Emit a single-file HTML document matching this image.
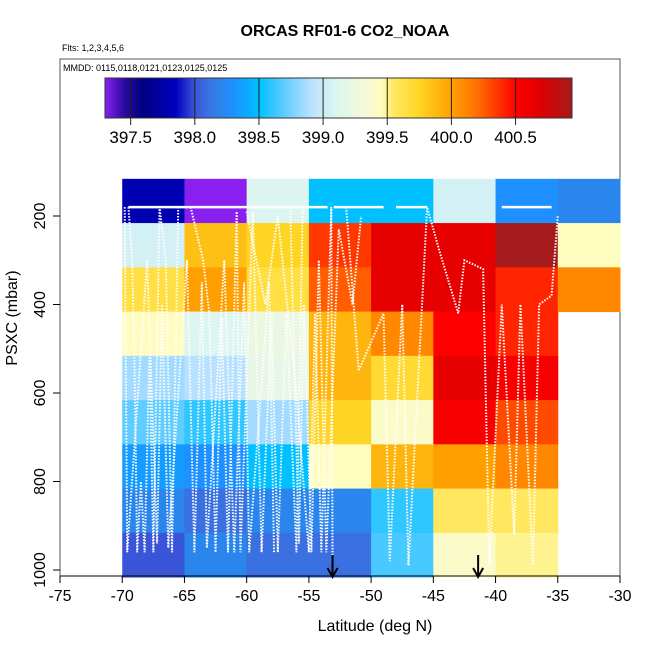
<!DOCTYPE html>
<html><head><meta charset="utf-8"><style>
body{margin:0;background:#fff}
svg{display:block;font-family:"Liberation Sans",sans-serif}
</style></head><body>
<svg id="chart" width="650" height="650" viewBox="0 0 650 650">
<defs>
<linearGradient id="cbgrad" x1="0" x2="1" y1="0" y2="0"></linearGradient>
</defs>
<text x="345" y="36" text-anchor="middle" font-size="16" font-weight="bold">ORCAS RF01-6 CO2_NOAA</text>
<text x="62" y="51" font-size="9">Flts: 1,2,3,4,5,6</text>
<rect x="60" y="59" width="560" height="517" fill="none" stroke="#555" stroke-width="1"/>
<text x="63" y="71" font-size="9">MMDD: 0115,0118,0121,0123,0125,0125</text>
<g id="cells"></g>
<g id="tracks"></g>
<g id="colorbar"></g>
<g id="axes"></g>
<text x="375" y="631" text-anchor="middle" font-size="16">Latitude (deg N)</text>
<text transform="translate(17,318) rotate(-90)" text-anchor="middle" font-size="16">PSXC (mbar)</text>
</svg>
<script>
// data
const latBins = [-70,-65,-60,-55,-50,-45,-40,-35];
const presBins = [116,216,316,416,516,616,716,816,916];
const co2Rows = [
 [397.8,397.3,399.1,398.5,398.5,399.05,398.3,398.2],
 [399.05,399.85,399.75,400.35,400.65,400.65,400.94,399.45],
 [399.65,400.0,399.65,400.25,400.65,400.65,400.4,400.1],
 [399.45,399.1,399.25,399.9,400.1,400.5,400.4,null],
 [398.85,398.9,399.2,399.9,399.7,400.65,400.55,null],
 [398.7,398.6,398.85,399.75,399.4,400.55,400.3,null],
 [398.35,398.3,398.5,399.45,399.9,400.0,400.1,null],
 [398.2,398.1,398.2,398.2,398.6,399.55,399.55,null],
 [398.0,398.2,398.1,398.1,398.65,399.4,399.5,null]
];
const xTicks = [-75,-70,-65,-60,-55,-50,-45,-40,-35,-30];
const yTicks = [200,400,600,800,1000];
const cbTicks = [397.5,398.0,398.5,399.0,399.5,400.0,400.5];
const arrowLats = [-53.1,-41.4];
// flight profile tracks: [lat, pressure] pairs
const track1 = [[-69.5,180],[-69.2,300],[-69,560],[-68.8,960],[-68.5,800],[-68.2,960],[-67.8,500],[-67.5,960],[-67,180],[-66.5,300],[-66,960],[-65.5,180]];
const track2 = [[-64.5,180],[-63.5,300],[-63,420],[-62.5,960],[-62,430],[-61.5,960],[-60.8,190],[-60.5,960],[-59.5,190],[-58.8,960],[-58,420],[-57.5,960],[-56.8,420],[-56,960],[-55.5,180]];
const track3 = [[-60,190],[-58.5,400],[-57.5,200],[-56,600],[-55,960],[-54.5,420],[-54,960],[-53.2,180],[-53.1,980]];
const track4 = [[-52,180],[-51,550],[-49,420],[-48.5,980],[-47.5,400],[-47,990],[-45.5,180],[-44.5,280],[-43,420],[-42.5,300],[-41,320],[-40.5,990],[-39.5,400],[-38.5,920],[-38,400],[-37,990],[-36.5,400],[-35.5,380],[-35,200]];
const track5 = [[-69.8,180],[-69.6,960],[-68,300],[-67.2,940],[-66.8,400],[-66.3,950],[-64.8,300],[-64.2,960],[-63.6,350],[-63.2,950],[-61.8,300],[-61,960],[-60.2,350],[-59.8,960],[-58.2,350],[-57.8,960]];
const track6 = [[-56.5,180],[-55.8,940],[-55.4,400],[-54.8,960],[-54.2,300],[-53.6,960],[-52.6,230],[-51.5,400],[-50.8,200]];
const tracks = [track1,track2,track3,track4,track5,track6];
const topLine = [[-69.5,180],[-53.5,180]];
const topLine2 = [[-53,180],[-49,180]];
const topLine3 = [[-48,180],[-45.5,180]];
const topLine4 = [[-39.5,180],[-35.5,180]];

// scales
const x = v => 60 + (v + 75) * 560 / 45;
const y = p => 216 + (p - 200) * 0.4425;
const cbMin = 397.3, cbMax = 400.94, cbX0 = 105, cbX1 = 572;
const cx = v => cbX0 + (v - cbMin) / (cbMax - cbMin) * (cbX1 - cbX0);

const stops = [[397.3,'#8a20f0'],[397.45,'#2a0aa0'],[397.6,'#000080'],[397.85,'#0000c0'],[398.0,'#3a55d8'],[398.1,'#3a70e0'],[398.2,'#2a85ec'],[398.3,'#1e90ff'],[398.5,'#00c0ff'],[398.7,'#60ccff'],[398.9,'#b8e0ff'],[399.1,'#dcf5f0'],[399.3,'#f2f8dc'],[399.45,'#fffcc0'],[399.55,'#ffe860'],[399.75,'#ffd525'],[400.0,'#ffa000'],[400.2,'#ff7000'],[400.5,'#ff0000'],[400.7,'#dd0000'],[400.94,'#a51b1b']];
function hex(h){return [1,3,5].map(i=>parseInt(h.substr(i,2),16));}
function color(v){
  if(v<=stops[0][0]) return stops[0][1];
  for(let i=1;i<stops.length;i++){
    if(v<=stops[i][0]){
      const a=hex(stops[i-1][1]), b=hex(stops[i][1]);
      const t=(v-stops[i-1][0])/(stops[i][0]-stops[i-1][0]);
      return 'rgb('+a.map((c,k)=>Math.round(c+(b[k]-c)*t)).join(',')+')';
    }
  }
  return stops[stops.length-1][1];
}
const NS='http://www.w3.org/2000/svg';
function mk(tag,attrs,parent){const e=document.createElementNS(NS,tag);for(const k in attrs)e.setAttribute(k,attrs[k]);parent.appendChild(e);return e;}

// gradient
const grad=document.getElementById('cbgrad');
stops.forEach(s=>{mk('stop',{offset:(s[0]-cbMin)/(cbMax-cbMin),'stop-color':s[1]},grad);});

// cells
const cg=document.getElementById('cells');
co2Rows.forEach((row,r)=>{row.forEach((v,c)=>{
  if(v===null) return;
  const e=mk('rect',{x:x(latBins[c]),y:y(presBins[r]),width:x(latBins[c]+5)-x(latBins[c])+0.5,height:y(presBins[r]+100)-y(presBins[r])+0.5,fill:color(v)},cg);
  
  
});});

// tracks
const tg=document.getElementById('tracks');
tracks.forEach(t=>{
  const e=mk('polyline',{points:t.map(p=>x(p[0])+','+y(p[1])).join(' '),fill:'none',stroke:'#fff','stroke-width':2,'stroke-dasharray':'1.5 1.5'},tg);
  
  
});
[topLine,topLine2,topLine3,topLine4].forEach(t=>{
  const e=mk('polyline',{points:t.map(p=>x(p[0])+','+y(p[1])).join(' '),fill:'none',stroke:'#fff','stroke-width':2.5},tg);
  
  
});

// arrows
arrowLats.forEach(l=>{
  const g=mk('g',{},tg);
  
  
  mk('line',{x1:x(l),x2:x(l),y1:555,y2:576,stroke:'#000','stroke-width':2},g);
  mk('polyline',{points:(x(l)-5)+',568 '+x(l)+',577 '+(x(l)+5)+',568',fill:'none',stroke:'#000','stroke-width':2},g);
});

// colorbar
const cb=document.getElementById('colorbar');
const bar=mk('rect',{x:cbX0,y:78,width:cbX1-cbX0,height:40,fill:'url(#cbgrad)',stroke:'#333','stroke-width':1},cb);


cbTicks.forEach(v=>{
  mk('line',{x1:cx(v),x2:cx(v),y1:78,y2:125,stroke:'#222','stroke-width':1},cb);
  const t=mk('text',{x:cx(v),y:143,'text-anchor':'middle','font-size':17},cb);
  t.textContent=v.toFixed(1);
  
  
});

// axes
const ax=document.getElementById('axes');
mk('line',{x1:60,x2:620,y1:576,y2:576,stroke:'#000'},ax);
mk('line',{x1:60,x2:60,y1:y(200),y2:y(1000),stroke:'#555'},ax);
xTicks.forEach(v=>{
  mk('line',{x1:x(v),x2:x(v),y1:576,y2:583,stroke:'#000'},ax);
  const t=mk('text',{x:x(v),y:601,'text-anchor':'middle','font-size':16},ax);
  t.textContent=v;
  
  
});
yTicks.forEach(v=>{
  mk('line',{x1:53,x2:60,y1:y(v),y2:y(v),stroke:'#000'},ax);
  const t=mk('text',{transform:'translate(45,'+y(v)+') rotate(-90)','text-anchor':'middle','font-size':16},ax);
  t.textContent=v;
  
  
});
</script>
</body></html>
